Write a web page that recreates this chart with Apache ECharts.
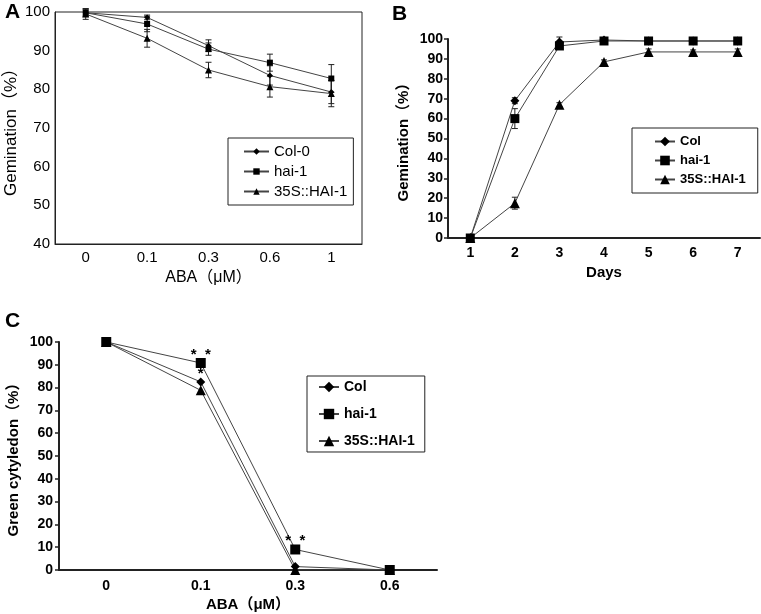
<!DOCTYPE html>
<html>
<head>
<meta charset="utf-8">
<script src="https://cdn.jsdelivr.net/npm/echarts@6/dist/echarts.min.js"></script>
<style>
  html, body { margin: 0; padding: 0; background: #fff; }
  #main { width: 761px; height: 614px; }
</style>
</head>
<body>
<div id="main"></div>
<script>
// panel A: germination vs ABA
const aCats = ['0', '0.1', '0.3', '0.6', '1'];
const aCol = [99.8, 98.6, 91.3, 83.6, 79.3];
const aHai = [99.8, 96.9, 90.4, 86.9, 82.8];
const a35S = [99.5, 93.2, 85.0, 80.7, 78.9];
const aColErr = [1.0, 0.6, 1.5, 2.5, 3.0];
const aHaiErr = [0.8, 2.0, 1.6, 2.2, 3.6];
const a35SErr = [1.4, 2.3, 2.0, 2.7, 3.4];

// panel B: germination vs days
const bCats = ['1', '2', '3', '4', '5', '6', '7'];
const bCol = [0, 69, 98.5, 99.5, 99, 99, 99];
const bHai = [0, 60, 96.5, 99, 99, 99, 99];
const b35S = [0, 17.5, 67, 88.5, 93.5, 93.5, 93.5];
const bColErr = [0, 1.5, 2.5, 0.5, 0.5, 0.5, 0.5];
const bHaiErr = [0, 5, 1, 0.5, 0.5, 0.5, 0.5];
const b35SErr = [0, 3, 1, 1, 1.5, 1, 1.5];

// panel C: green cotyledon vs ABA
const cCats = ['0', '0.1', '0.3', '0.6'];
const cCol = [100, 82.5, 1.5, 0];
const cHai = [100, 90.8, 9, 0];
const c35S = [100, 78.8, 0, 0];
// significance marks: [category index, value it sits on, text, marker size below]
const cStars = [[1, 90.8, '*  *', 10], [2, 9, '*  *', 10], [1, 82.5, '*', 9]];

const FONT = 'Liberation Sans, Arial, Noto Sans CJK SC, sans-serif';

function errBars(xi, vals, errs, cap) {
  const data = [];
  vals.forEach((v, i) => {
    if (errs[i] > 0) data.push([i, v - errs[i], v + errs[i]]);
  });
  return {
    type: 'custom',
    xAxisIndex: xi,
    yAxisIndex: xi,
    silent: true,
    z: 1,
    encode: { x: 0, y: [1, 2] },
    data: data,
    renderItem: function (params, api) {
      const lo = api.coord([api.value(0), api.value(1)]);
      const hi = api.coord([api.value(0), api.value(2)]);
      const st = { stroke: '#222', lineWidth: 1 };
      return {
        type: 'group',
        children: [
          { type: 'line', shape: { x1: lo[0], y1: lo[1], x2: hi[0], y2: hi[1] }, style: st },
          { type: 'line', shape: { x1: lo[0] - cap, y1: lo[1], x2: lo[0] + cap, y2: lo[1] }, style: st },
          { type: 'line', shape: { x1: hi[0] - cap, y1: hi[1], x2: hi[0] + cap, y2: hi[1] }, style: st }
        ]
      };
    }
  };
}

function line(name, xi, vals, symbol, size) {
  return {
    name: name,
    type: 'line',
    xAxisIndex: xi,
    yAxisIndex: xi,
    data: vals,
    symbol: symbol,
    symbolSize: size,
    showAllSymbol: true,
    animation: false,
    z: 3,
    itemStyle: { color: '#000' },
    lineStyle: { color: '#444', width: 1 }
  };
}

const chart = echarts.init(document.getElementById('main'), null, { renderer: 'canvas' });

const option = {
  backgroundColor: '#fff',
  animation: false,
  textStyle: { fontFamily: FONT, color: '#000' },
  graphic: [
    { type: 'text', left: 5, top: 2, style: { text: 'A', font: 'bold 21px ' + FONT, fill: '#000' } },
    { type: 'text', left: 392, top: 4, style: { text: 'B', font: 'bold 21px ' + FONT, fill: '#000' } },
    { type: 'text', left: 5, top: 311, style: { text: 'C', font: 'bold 21px ' + FONT, fill: '#000' } }
  ],
  grid: [
    { left: 55, top: 12, width: 307, height: 232, show: true, borderColor: '#222', borderWidth: 1, backgroundColor: 'transparent' },
    { left: 448, top: 39, width: 312, height: 199 },
    { left: 59, top: 342, width: 378, height: 228 }
  ],
  legend: [
    {
      data: ['Col-0', 'hai-1', '35S::HAI-1'],
      orient: 'vertical', left: 228, top: 138,
      padding: [6, 6, 6, 15], itemGap: 5, itemWidth: 25, itemHeight: 8,
      borderColor: '#222', borderWidth: 1, backgroundColor: '#fff',
      textStyle: { fontSize: 15, fontFamily: FONT, color: '#000' },
      formatter: n => n.trim()
    },
    {
      data: ['Col', 'hai-1 ', '35S::HAI-1 '],
      orient: 'vertical', left: 632, top: 128,
      padding: [7, 12, 7, 22], itemGap: 6, itemWidth: 20, itemHeight: 12,
      borderColor: '#222', borderWidth: 1, backgroundColor: '#fff',
      textStyle: { fontSize: 13, fontWeight: 'bold', fontFamily: FONT, color: '#000' },
      formatter: n => n.trim()
    },
    {
      data: ['Col ', 'hai-1  ', '35S::HAI-1  '],
      orient: 'vertical', left: 307, top: 376,
      padding: [4, 10, 4, 11], itemGap: 13, itemWidth: 20, itemHeight: 13,
      borderColor: '#222', borderWidth: 1, backgroundColor: '#fff',
      textStyle: { fontSize: 14, fontWeight: 'bold', fontFamily: FONT, color: '#000' },
      formatter: n => n.trim()
    }
  ],
  xAxis: [
    {
      gridIndex: 0, type: 'category', data: aCats,
      name: 'ABA（μM）', nameLocation: 'middle', nameGap: 26,
      nameTextStyle: { fontSize: 16, color: '#000' },
      axisLine: { lineStyle: { color: '#222', width: 1 } },
      axisTick: { inside: true, length: 5, lineStyle: { color: '#222' } },
      axisLabel: { fontSize: 15, color: '#000', margin: 6 }
    },
    {
      gridIndex: 1, type: 'category', data: bCats,
      name: 'Days', nameLocation: 'middle', nameGap: 27,
      nameTextStyle: { fontSize: 15, fontWeight: 'bold', color: '#000' },
      axisLine: { lineStyle: { color: '#222', width: 2 } },
      axisTick: { inside: true, length: 5, lineStyle: { color: '#222', width: 1.5 } },
      axisLabel: { fontSize: 14, fontWeight: 'bold', color: '#000', margin: 8 }
    },
    {
      gridIndex: 2, type: 'category', data: cCats,
      name: 'ABA（μM）', nameLocation: 'middle', nameGap: 27,
      nameTextStyle: { fontSize: 15, fontWeight: 'bold', color: '#000' },
      axisLine: { lineStyle: { color: '#222', width: 2 } },
      axisTick: { inside: true, length: 5, lineStyle: { color: '#222', width: 1.5 } },
      axisLabel: { fontSize: 14, fontWeight: 'bold', color: '#000', margin: 9 }
    }
  ],
  yAxis: [
    {
      gridIndex: 0, type: 'value', min: 40, max: 100, interval: 10,
      name: 'Gemination（%）', nameLocation: 'middle', nameGap: 35, nameRotate: 90,
      nameTextStyle: { fontSize: 17, color: '#000' },
      axisLine: { show: true, lineStyle: { color: '#222', width: 1 } },
      axisTick: { show: false },
      splitLine: { show: false },
      axisLabel: { fontSize: 15, color: '#000', margin: 5 }
    },
    {
      gridIndex: 1, type: 'value', min: 0, max: 100, interval: 10,
      name: 'Gemination（%）', nameLocation: 'middle', nameGap: 37, nameRotate: 90,
      nameTextStyle: { fontSize: 15, fontWeight: 'bold', color: '#000' },
      axisLine: { show: true, lineStyle: { color: '#222', width: 2 } },
      axisTick: { show: true, length: 4, lineStyle: { color: '#222', width: 1.5 } },
      splitLine: { show: false },
      axisLabel: { fontSize: 14, fontWeight: 'bold', color: '#000', margin: 5 }
    },
    {
      gridIndex: 2, type: 'value', min: 0, max: 100, interval: 10,
      name: 'Green cytyledon（%）', nameLocation: 'middle', nameGap: 38, nameRotate: 90,
      nameTextStyle: { fontSize: 15, fontWeight: 'bold', color: '#000' },
      axisLine: { show: true, lineStyle: { color: '#222', width: 2 } },
      axisTick: { show: true, length: 4, lineStyle: { color: '#222', width: 1.5 } },
      splitLine: { show: false },
      axisLabel: { fontSize: 14, fontWeight: 'bold', color: '#000', margin: 6 }
    }
  ],
  series: [
    errBars(0, aCol, aColErr, 3),
    errBars(0, aHai, aHaiErr, 3),
    errBars(0, a35S, a35SErr, 3),
    line('Col-0', 0, aCol, 'diamond', 6),
    line('hai-1', 0, aHai, 'rect', 6),
    line('35S::HAI-1', 0, a35S, 'triangle', 7),

    errBars(1, bCol, bColErr, 3),
    errBars(1, bHai, bHaiErr, 3),
    errBars(1, b35S, b35SErr, 3),
    line('Col', 1, bCol, 'diamond', 9),
    line('hai-1 ', 1, bHai, 'rect', 9),
    line('35S::HAI-1 ', 1, b35S, 'triangle', 10),

    line('Col ', 2, cCol, 'diamond', 9),
    line('hai-1  ', 2, cHai, 'rect', 10),
    line('35S::HAI-1  ', 2, c35S, 'triangle', 10),
    {
      // asterisks above significant points
      type: 'custom',
      xAxisIndex: 2,
      yAxisIndex: 2,
      silent: true,
      z: 6,
      encode: { x: 0, y: 1 },
      data: cStars.map(s => [s[0], s[1]]),
      renderItem: function (params, api) {
        const p = api.coord([api.value(0), api.value(1)]);
        const s = cStars[params.dataIndex];
        return {
          type: 'text',
          z2: 10,
          x: p[0],
          y: p[1] - (s[3] / 2 + 3.5),
          style: {
            text: s[2],
            fill: '#000',
            font: 'bold 15px ' + FONT,
            align: 'center',
            verticalAlign: 'middle'
          }
        };
      }
    }
  ]
};

chart.setOption(option);
</script>
</body>
</html>
